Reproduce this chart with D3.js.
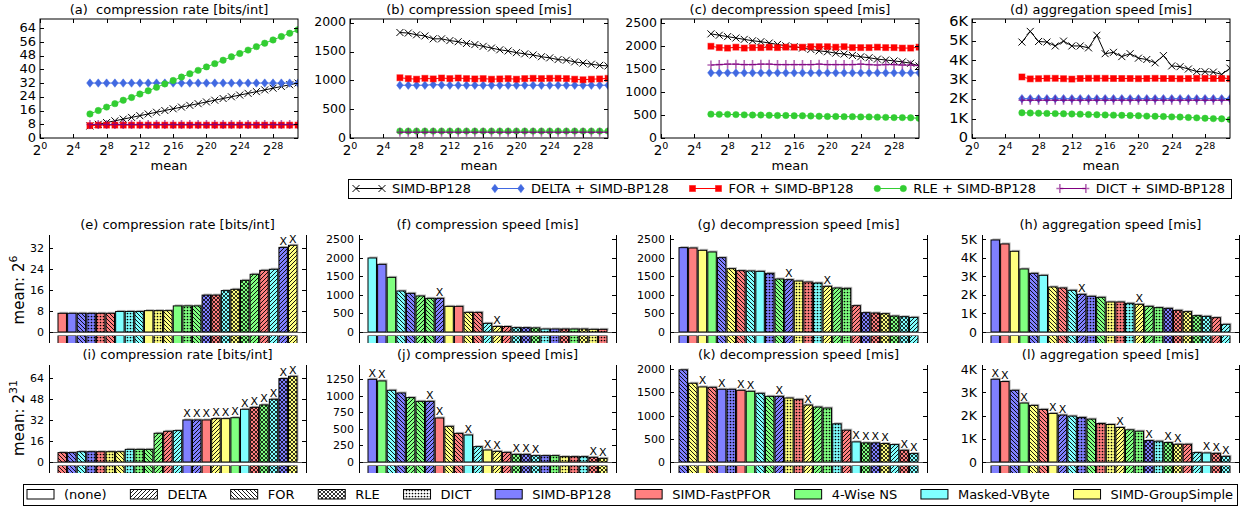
<!DOCTYPE html>
<html>
<head>
<meta charset="utf-8">
<script src="https://cdn.jsdelivr.net/npm/d3@7"></script>
<style>
body { margin: 0; background: #fff; }
svg { font-family: 'DejaVu Sans', sans-serif; }
text { white-space: pre; }
</style>
</head>
<body>
<svg id="chart" width="1247" height="506"></svg>
<script>
// ---- top row: log2(mean) on x, one value per point ----
const exps = [6, 7, 8, 9, 10, 11, 12, 13, 14, 15, 16, 17, 18, 19, 20, 21, 22, 23, 24, 25, 26, 27, 28, 29, 30, 31];
const expTicks = [0, 4, 8, 12, 16, 20, 24, 28];

const bpRate = [7, 8, 9, 10, 11, 12, 13, 14, 15, 16, 17, 18, 19, 20, 21, 22, 23, 24, 25, 26, 27, 28, 29, 30, 31, 32];
const deltaRate = [32, 32, 32, 32, 32, 32, 32, 32, 32, 32, 32, 32, 32, 32, 32, 32, 32, 32, 32, 32, 32, 32, 32, 32, 32, 32];
const forRate = [7.2, 7.5, 7.5, 7.5, 7.5, 7.5, 7.5, 7.5, 7.5, 7.5, 7.5, 7.5, 7.5, 7.5, 7.5, 7.5, 7.5, 7.5, 7.5, 7.5, 7.5, 7.5, 7.5, 7.5, 7.5, 7.5];
const rleRate = [14, 16, 18, 20, 22, 23.6, 25.6, 27.5, 29.5, 31.5, 33.5, 35.5, 37.4, 39.4, 41.4, 43.3, 45.3, 47.3, 49.2, 51.2, 53.2, 55.2, 57.1, 59.1, 61, 63];
const dictRate = [7.9, 7.9, 7.9, 7.9, 7.9, 7.9, 7.9, 7.9, 7.9, 7.9, 7.9, 7.9, 7.9, 7.9, 7.9, 7.9, 7.9, 7.9, 7.9, 7.9, 7.9, 7.9, 7.9, 7.9, 7.9, 7.9];

const bpComp = [1830, 1820, 1790, 1770, 1720, 1720, 1690, 1670, 1640, 1620, 1590, 1560, 1530, 1510, 1480, 1460, 1440, 1410, 1390, 1360, 1350, 1320, 1300, 1280, 1260, 1250];
const deltaComp = [915, 915, 915, 915, 925, 920, 915, 915, 915, 915, 915, 915, 915, 915, 915, 915, 915, 915, 915, 915, 915, 915, 915, 915, 915, 915];
const forComp = [1045, 1030, 1020, 1035, 1025, 1040, 1030, 1040, 1030, 1025, 1030, 1020, 1025, 1030, 1020, 1030, 1035, 1030, 1035, 1035, 1030, 1020, 1010, 1020, 1025, 1035];
const rleComp = [120, 120, 120, 120, 120, 120, 120, 120, 120, 120, 120, 120, 120, 120, 120, 120, 120, 120, 120, 120, 120, 120, 120, 120, 120, 120];
const dictComp = [100, 100, 100, 100, 100, 100, 100, 100, 100, 100, 100, 100, 100, 100, 100, 100, 100, 100, 100, 100, 100, 100, 100, 100, 100, 100];

const bpDecomp = [2270, 2240, 2210, 2180, 2150, 2120, 2100, 2070, 2040, 2010, 1990, 1960, 1930, 1900, 1880, 1850, 1830, 1800, 1770, 1750, 1720, 1700, 1680, 1660, 1630, 1570];
const deltaDecomp = [1420, 1420, 1420, 1420, 1420, 1420, 1420, 1420, 1420, 1420, 1420, 1420, 1420, 1420, 1420, 1420, 1420, 1420, 1420, 1420, 1420, 1420, 1420, 1420, 1420, 1420];
const forDecomp = [2000, 1970, 1960, 1980, 1960, 1970, 1970, 1980, 1970, 1980, 1980, 1980, 1990, 1990, 1990, 1980, 1990, 1970, 1970, 1970, 1980, 1970, 1970, 1960, 1960, 1980];
const rleDecomp = [520, 515, 515, 510, 505, 500, 500, 495, 490, 490, 485, 485, 480, 475, 470, 470, 465, 465, 460, 460, 455, 450, 445, 445, 440, 430];
const dictDecomp = [1590, 1600, 1610, 1610, 1600, 1600, 1610, 1610, 1600, 1600, 1600, 1600, 1600, 1610, 1600, 1600, 1600, 1600, 1610, 1600, 1590, 1600, 1600, 1590, 1590, 1580];

const bpAgg = [4950, 5500, 4980, 4950, 4750, 5000, 4750, 4750, 4650, 5300, 4350, 4420, 4200, 4350, 4120, 4050, 3880, 4250, 3720, 3680, 3560, 3430, 3420, 3400, 3280, 3600];
const deltaAgg = [2030, 2030, 2030, 2030, 2030, 2030, 2030, 2030, 2030, 2030, 2030, 2030, 2030, 2030, 2030, 2030, 2030, 2030, 2030, 2030, 2030, 2030, 2030, 2030, 2030, 2030];
const forAgg = [3150, 3050, 3060, 3080, 3080, 3060, 3040, 3070, 3080, 3080, 3080, 3070, 3070, 3070, 3060, 3070, 3080, 3070, 3070, 3060, 3070, 3080, 3080, 3070, 3070, 3060];
const rleAgg = [1300, 1290, 1280, 1270, 1260, 1250, 1240, 1230, 1210, 1200, 1190, 1180, 1170, 1160, 1150, 1130, 1120, 1110, 1090, 1080, 1060, 1040, 1020, 1000, 990, 950];
const dictAgg = [1950, 1950, 1950, 1950, 1950, 1950, 1950, 1950, 1950, 1950, 1950, 1950, 1950, 1950, 1950, 1950, 1950, 1950, 1950, 1950, 1950, 1950, 1950, 1950, 1950, 1950];

const seriesNames = ['SIMD-BP128', 'DELTA + SIMD-BP128', 'FOR + SIMD-BP128', 'RLE + SIMD-BP128', 'DICT + SIMD-BP128'];

// ---- bottom rows: [physical+logical code, value, marked with X] ----
// physical: B=SIMD-BP128 F=SIMD-FastPFOR N=4-Wise NS V=Masked-VByte G=SIMD-GroupSimple
// logical: n=(none) d=DELTA f=FOR r=RLE c=DICT
const barsE = [['Fn', 7.1], ['Bn', 7.1], ['Bf', 7.1], ['Bc', 7.1], ['Fc', 7.1], ['Ff', 7.1], ['Vn', 7.8], ['Vc', 7.8], ['Vf', 7.8], ['Gn', 8.1], ['Gc', 8.1], ['Gf', 8.1], ['Nn', 9.9], ['Nc', 9.9], ['Nf', 9.9], ['Br', 14.0], ['Fr', 14.0], ['Vr', 15.7], ['Gr', 16.2], ['Nr', 19.6], ['Nd', 21.9], ['Fd', 23.4], ['Vd', 23.8], ['Bd', 32.1, 1], ['Gd', 32.9, 1]];
const barsF = [['Vn', 1996], ['Bn', 1825], ['Nn', 1474], ['Vf', 1106], ['Bf', 1043], ['Nd', 971], ['Nf', 908], ['Bd', 908, 1], ['Gn', 692], ['Fn', 692], ['Gf', 530], ['Ff', 530], ['Vd', 234], ['Gd', 150, 1], ['Fd', 148], ['Vr', 117], ['Br', 117], ['Nr', 110], ['Vc', 81], ['Bc', 81], ['Fr', 81], ['Nc', 81], ['Gr', 81], ['Gc', 72], ['Fc', 72]];
const barsG = [['Bn', 2275], ['Fn', 2266], ['Gn', 2203], ['Nn', 2158], ['Bf', 2005], ['Gf', 1708], ['Ff', 1654], ['Vf', 1645], ['Vn', 1636], ['Bc', 1582], ['Nf', 1429], ['Bd', 1411, 1], ['Gc', 1375], ['Fc', 1348], ['Vc', 1321], ['Gd', 1232, 1], ['Nd', 1187], ['Nc', 1178], ['Fd', 710], ['Br', 521], ['Fr', 512], ['Gr', 494], ['Nr', 431], ['Vr', 413], ['Vd', 395]];
const barsH = [['Bn', 4964], ['Fn', 4749], ['Gn', 4353], ['Nn', 3400], ['Bf', 3166], ['Vn', 3058], ['Gf', 2429], ['Ff', 2375], ['Vf', 2249], ['Bd', 2033, 1], ['Bc', 1925], ['Nf', 1871], ['Gc', 1619], ['Fc', 1619], ['Vc', 1547], ['Gd', 1493, 1], ['Nd', 1385], ['Nc', 1313], ['Br', 1277], ['Fr', 1169], ['Gr', 1097], ['Nr', 881], ['Vr', 845], ['Fd', 773], ['Vd', 414]];
const barsI = [['Ff', 7.1], ['Bf', 7.1], ['Vf', 7.8], ['Bc', 7.8], ['Fc', 7.8], ['Gc', 7.8], ['Gf', 7.8], ['Vc', 9.6], ['Nc', 9.6], ['Nf', 9.6], ['Nd', 21.8], ['Fd', 23.3], ['Vd', 23.8], ['Bn', 31.9, 1], ['Bd', 31.9, 1], ['Fn', 31.9, 1], ['Gd', 32.9, 1], ['Gn', 32.9, 1], ['Nn', 33.6, 1], ['Vn', 40, 1], ['Fr', 41.5, 1], ['Nr', 43.3, 1], ['Vr', 47.6, 1], ['Br', 63.3, 1], ['Gr', 65, 1]];
const barsJ = [['Bn', 1250, 1], ['Nn', 1225, 1], ['Vf', 1084], ['Bf', 1043], ['Nd', 973], ['Nf', 917], ['Bd', 917, 1], ['Fn', 665, 1], ['Gf', 539], ['Ff', 433], ['Vn', 408, 1], ['Vd', 232], ['Gn', 181, 1], ['Gd', 161, 1], ['Fd', 146], ['Nr', 116, 1], ['Br', 116, 1], ['Vr', 96, 1], ['Bc', 96], ['Nc', 96], ['Gc', 81], ['Fc', 81], ['Vc', 81], ['Fr', 71, 1], ['Gr', 55, 1]];
const barsK = [['Bf', 1986], ['Gf', 1697], ['Gn', 1617, 1], ['Ff', 1610], ['Bn', 1567, 1], ['Bc', 1567], ['Fn', 1545, 1], ['Nn', 1523, 1], ['Vf', 1480], ['Nf', 1415], ['Bd', 1415, 1], ['Gc', 1379], ['Fc', 1350], ['Gd', 1227, 1], ['Nd', 1184], ['Nc', 1162], ['Vc', 823], ['Fd', 686], ['Vn', 433, 1], ['Nr', 412, 1], ['Br', 412, 1], ['Gr', 397, 1], ['Vd', 375], ['Fr', 253, 1], ['Vr', 181, 1]];
const barsL = [['Bn', 3567, 1], ['Fn', 3466, 1], ['Bf', 3090], ['Nn', 2541, 1], ['Gf', 2440], ['Ff', 2267], ['Gn', 2094, 1], ['Bd', 2022, 1], ['Vf', 1978], ['Bc', 1921], ['Nf', 1848], ['Fc', 1661], ['Gc', 1617], ['Gd', 1488, 1], ['Nd', 1386], ['Nc', 1328], ['Br', 924, 1], ['Vc', 895], ['Nr', 837, 1], ['Gr', 765, 1], ['Fd', 765], ['Vd', 404], ['Vn', 390, 1], ['Fr', 375, 1], ['Vr', 245, 1]];

const logicalNames = ['(none)', 'DELTA', 'FOR', 'RLE', 'DICT'];
const physicalNames = ['SIMD-BP128', 'SIMD-FastPFOR', '4-Wise NS', 'Masked-VByte', 'SIMD-GroupSimple'];

// ---- styling ----
const physColor = { B: '#8080ff', F: '#ff8080', N: '#80ff80', V: '#80ffff', G: '#ffff80' };
const physCodes = ['B', 'F', 'N', 'V', 'G'];
const logCodes = ['n', 'd', 'f', 'r', 'c'];
const lineStyle = [
    { color: '#000000', shape: 'x' },
    { color: '#4169e1', shape: 'diamond' },
    { color: '#ff0000', shape: 'square' },
    { color: '#32cd32', shape: 'circle' },
    { color: '#800080', shape: 'plus' },
];

const svg = d3.select('#chart');
const defs = svg.append('defs');

function makePattern(id, size, draw) {
    const p = defs.append('pattern')
        .attr('id', id)
        .attr('patternUnits', 'userSpaceOnUse')
        .attr('width', size)
        .attr('height', size);
    draw(p, size);
}
const s = 4;
makePattern('hat-d', s, (p) => p.append('path')
    .attr('d', `M0,${s}L${s},0M-1,1L1,-1M${s - 1},${s + 1}L${s + 1},${s - 1}`)
    .attr('stroke', '#000').attr('stroke-width', 0.9));
makePattern('hat-f', s, (p) => p.append('path')
    .attr('d', `M0,0L${s},${s}M-1,${s - 1}L1,${s + 1}M${s - 1},-1L${s + 1},1`)
    .attr('stroke', '#000').attr('stroke-width', 0.9));
makePattern('hat-r', s, (p) => p.append('path')
    .attr('d', `M0,${s}L${s},0M-1,1L1,-1M${s - 1},${s + 1}L${s + 1},${s - 1}M0,0L${s},${s}M-1,${s - 1}L1,${s + 1}M${s - 1},-1L${s + 1},1`)
    .attr('stroke', '#000').attr('stroke-width', 0.8));
makePattern('hat-c', 3, (p) => p.append('circle')
    .attr('cx', 1.5).attr('cy', 1.5).attr('r', 0.85).attr('fill', '#000'));

const hatchFor = { n: null, d: 'hat-d', f: 'hat-f', r: 'hat-r', c: 'hat-c' };

function drawMarker(g, shape, color, x, y) {
    if (shape === 'x') {
        g.append('path').attr('d', `M${x - 3.5},${y - 3.5}L${x + 3.5},${y + 3.5}M${x - 3.5},${y + 3.5}L${x + 3.5},${y - 3.5}`)
            .attr('stroke', color).attr('stroke-width', 1).attr('fill', 'none');
    } else if (shape === 'diamond') {
        g.append('path').attr('d', `M${x},${y - 4.2}L${x + 3.3},${y}L${x},${y + 4.2}L${x - 3.3},${y}Z`)
            .attr('fill', color).attr('stroke', color).attr('stroke-opacity', 0.5).attr('stroke-width', 1);
    } else if (shape === 'square') {
        g.append('rect').attr('x', x - 3).attr('y', y - 3).attr('width', 6).attr('height', 6)
            .attr('fill', color).attr('stroke', color).attr('stroke-opacity', 0.5).attr('stroke-width', 1);
    } else if (shape === 'circle') {
        g.append('circle').attr('cx', x).attr('cy', y).attr('r', 3.2)
            .attr('fill', color).attr('stroke', color).attr('stroke-opacity', 0.5).attr('stroke-width', 1);
    } else {
        g.append('path').attr('d', `M${x - 3.5},${y}H${x + 3.5}M${x},${y - 4.5}V${y + 4.5}`)
            .attr('stroke', color).attr('stroke-opacity', 0.6).attr('stroke-width', 1.6).attr('fill', 'none');
    }
}

// ---- top row panels ----
const topLefts = [40, 350, 661, 972];
const topW = 258;
const topY0 = 19;
const topY1 = 138;
const kFmt = (d) => (d === 0 ? '0' : `${d / 1000}K`);

const topPanels = [
    { title: '(a)  compression rate [bits/int]', ymax: 69.3, ticks: [0, 8, 16, 24, 32, 40, 48, 56, 64], fmt: String, fs: 13,
        data: [bpRate, deltaRate, forRate, rleRate, dictRate] },
    { title: '(b) compression speed [mis]', ymax: 2064, ticks: [0, 500, 1000, 1500, 2000], fmt: String, fs: 12.5,
        data: [bpComp, deltaComp, forComp, rleComp, dictComp] },
    { title: '(c) decompression speed [mis]', ymax: 2594, ticks: [0, 500, 1000, 1500, 2000, 2500], fmt: String, fs: 12.5,
        data: [bpDecomp, deltaDecomp, forDecomp, rleDecomp, dictDecomp] },
    { title: '(d) aggregation speed [mis]', ymax: 6140, ticks: [0, 1000, 2000, 3000, 4000, 5000, 6000], fmt: kFmt, fs: 14.5,
        data: [bpAgg, deltaAgg, forAgg, rleAgg, dictAgg] },
];

topPanels.forEach((p, i) => {
    const left = topLefts[i];
    const x = d3.scaleLinear().domain([0, 31]).range([left, left + topW]);
    const y = d3.scaleLinear().domain([0, p.ymax]).range([topY1, topY0]);
    const g = svg.append('g');
    const clipId = `clip-top-${i}`;
    defs.append('clipPath').attr('id', clipId).append('rect')
        .attr('x', left).attr('y', topY0).attr('width', topW).attr('height', topY1 - topY0);

    const plot = g.append('g').attr('clip-path', `url(#${clipId})`);
    const line = d3.line().x((d, j) => x(exps[j])).y((d) => y(d));
    p.data.forEach((vals, k) => {
        const st = lineStyle[k];
        plot.append('path').datum(vals).attr('d', line)
            .attr('fill', 'none').attr('stroke', st.color).attr('stroke-width', 1);
        vals.forEach((v, j) => drawMarker(plot, st.shape, st.color, x(exps[j]), y(v)));
    });

    // frame and inward ticks on all sides
    g.append('rect').attr('x', left).attr('y', topY0).attr('width', topW).attr('height', topY1 - topY0)
        .attr('fill', 'none').attr('stroke', '#000').attr('stroke-width', 1);
    p.ticks.forEach((t) => {
        const yy = Math.round(y(t)) + 0.5;
        g.append('path').attr('d', `M${left},${yy}h4M${left + topW},${yy}h-4`).attr('stroke', '#000');
        g.append('text').attr('x', left - 4).attr('y', y(t) - 1).attr('dy', '0.36em')
            .attr('text-anchor', 'end').attr('font-size', p.fs).text(p.fmt(t));
    });
    expTicks.forEach((t) => {
        const xx = Math.round(x(t)) + 0.5;
        g.append('path').attr('d', `M${xx},${topY1}v-4M${xx},${topY0}v4`).attr('stroke', '#000');
        const lab = g.append('text').attr('x', x(t)).attr('y', 155).attr('text-anchor', 'middle').attr('font-size', 13.5);
        lab.append('tspan').text('2');
        lab.append('tspan').attr('dy', -6).attr('font-size', 9.5).text(t);
    });
    g.append('text').attr('x', left + topW / 2).attr('y', 170).attr('text-anchor', 'middle')
        .attr('font-size', 13).text('mean');
    g.append('text').attr('x', left + topW / 2).attr('y', 14).attr('text-anchor', 'middle')
        .attr('font-size', 13).text(p.title);
});

// top legend
(function () {
    const box = { x0: 348, x1: 1231, y0: 179, y1: 198 };
    const lg = svg.append('g');
    lg.append('rect').attr('x', box.x0 + 0.5).attr('y', box.y0 + 0.5)
        .attr('width', box.x1 - box.x0).attr('height', box.y1 - box.y0)
        .attr('fill', '#fff').attr('stroke', '#000');
    const texts = seriesNames.map((n) => lg.append('text').attr('font-size', 13).attr('y', 193).text(n));
    const widths = texts.map((t) => t.node().getComputedTextLength());
    const handle = 36;
    const start = 356;
    const end = 1225;
    const gap = (end - start - d3.sum(widths) - handle * widths.length) / (widths.length - 1);
    let cx = start;
    seriesNames.forEach((n, k) => {
        const st = lineStyle[k];
        const yy = 188.5;
        lg.append('path').attr('d', `M${cx},${yy}H${cx + 26}`).attr('stroke', st.color).attr('stroke-width', 1);
        drawMarker(lg, st.shape, st.color, cx, yy);
        drawMarker(lg, st.shape, st.color, cx + 26, yy);
        texts[k].attr('x', cx + handle);
        cx += handle + widths[k] + gap;
    });
})();

// ---- bottom bar panels ----
const botLefts = [49, 359, 670, 982];
const botW = 257;
const rows = [
    { top: 235, zero: 332, bottom: 343, label: '6', labelY: 290 },
    { top: 365, zero: 462, bottom: 473, label: '31', labelY: 418 },
];

const botPanels = [
    { title: '(e) compression rate [bits/int]', row: 0, col: 0, bars: barsE, ymax: 36.8, ticks: [0, 8, 16, 24, 32], fmt: String, fs: 11 },
    { title: '(f) compression speed [mis]', row: 0, col: 1, bars: barsF, ymax: 2616, ticks: [0, 500, 1000, 1500, 2000, 2500], fmt: String, fs: 11 },
    { title: '(g) decompression speed [mis]', row: 0, col: 2, bars: barsG, ymax: 2616, ticks: [0, 500, 1000, 1500, 2000, 2500], fmt: String, fs: 11 },
    { title: '(h) aggregation speed [mis]', row: 0, col: 3, bars: barsH, ymax: 5232, ticks: [0, 1000, 2000, 3000, 4000, 5000], fmt: kFmt, fs: 12.5 },
    { title: '(i) compression rate [bits/int]', row: 1, col: 0, bars: barsI, ymax: 73.6, ticks: [0, 16, 32, 48, 64], fmt: String, fs: 11 },
    { title: '(j) compression speed [mis]', row: 1, col: 1, bars: barsJ, ymax: 1466, ticks: [0, 250, 500, 750, 1000, 1250], fmt: String, fs: 11 },
    { title: '(k) decompression speed [mis]', row: 1, col: 2, bars: barsK, ymax: 2090, ticks: [0, 500, 1000, 1500, 2000], fmt: String, fs: 11 },
    { title: '(l) aggregation speed [mis]', row: 1, col: 3, bars: barsL, ymax: 4180, ticks: [0, 1000, 2000, 3000, 4000], fmt: kFmt, fs: 12.5 },
];

function drawBar(g, code, x, y0, y1, w, shadow) {
    const fill = physColor[code[0]];
    const hatch = hatchFor[code[1]];
    if (shadow) {
        g.append('rect').attr('x', x + 1.5).attr('y', y0 - 1.5).attr('width', w).attr('height', y1 - y0)
            .attr('fill', '#999').attr('opacity', 0.7);
    }
    g.append('rect').attr('x', x).attr('y', y0).attr('width', w).attr('height', y1 - y0).attr('fill', fill);
    if (hatch) {
        g.append('rect').attr('x', x).attr('y', y0).attr('width', w).attr('height', y1 - y0)
            .attr('fill', `url(#${hatch})`);
    }
    g.append('rect').attr('x', x).attr('y', y0).attr('width', w).attr('height', y1 - y0)
        .attr('fill', 'none').attr('stroke', '#000').attr('stroke-width', 1);
}

botPanels.forEach((p, i) => {
    const r = rows[p.row];
    const left = botLefts[p.col];
    const right = left + botW;
    const x = d3.scaleBand().domain(d3.range(p.bars.length)).range([left + 9, right - 9]).paddingInner(0.12);
    const y = d3.scaleLinear().domain([0, p.ymax]).range([r.zero, r.top]);
    const g = svg.append('g');
    const clipId = `clip-bot-${i}`;
    defs.append('clipPath').attr('id', clipId).append('rect')
        .attr('x', left).attr('y', r.top - 20).attr('width', botW).attr('height', r.bottom - r.top + 20);
    const plot = g.append('g').attr('clip-path', `url(#${clipId})`);

    p.bars.forEach((b, j) => {
        const bx = x(j);
        const bw = x.bandwidth();
        drawBar(plot, b[0], bx, y(b[1]), r.zero, bw, true);
        drawBar(plot, b[0], bx, r.zero + 3.5, r.bottom + 3, bw, false);
        if (b[2]) {
            plot.append('text').attr('x', bx + bw / 2).attr('y', y(b[1]) - 2.5).attr('text-anchor', 'middle')
                .attr('font-size', 11).text('X');
        }
    });
    plot.append('rect').attr('x', left).attr('y', r.zero).attr('width', botW).attr('height', 3.5).attr('fill', '#fff');
    plot.append('path').attr('d', `M${left},${r.zero + 0.5}H${right}`).attr('stroke', '#555').attr('stroke-width', 1);

    g.append('path').attr('d', `M${left + 0.5},${r.top}V${r.bottom}M${right + 0.5},${r.top}V${r.bottom}`)
        .attr('stroke', '#000').attr('stroke-width', 1);
    p.ticks.forEach((t) => {
        const yy = Math.round(y(t)) + 0.5;
        g.append('path').attr('d', `M${left},${yy}h4M${right},${yy}h-4`).attr('stroke', '#000');
        g.append('text').attr('x', left - 5).attr('y', y(t)).attr('dy', '0.36em')
            .attr('text-anchor', 'end').attr('font-size', p.fs).text(p.fmt(t));
    });
    g.append('text').attr('x', left + botW / 2).attr('y', r.top - 6).attr('text-anchor', 'middle')
        .attr('font-size', 13).text(p.title);
});

rows.forEach((r) => {
    const t = svg.append('text').attr('transform', `translate(24,${r.labelY}) rotate(-90)`)
        .attr('text-anchor', 'middle').attr('font-size', 15);
    t.append('tspan').text('mean: 2');
    t.append('tspan').attr('dy', -7).attr('font-size', 11).text(r.label);
});

// bottom legend
(function () {
    const box = { x0: 23, x1: 1237, y0: 484, y1: 505 };
    const lg = svg.append('g');
    lg.append('rect').attr('x', box.x0 + 0.5).attr('y', box.y0 + 0.5)
        .attr('width', box.x1 - box.x0).attr('height', box.y1 - box.y0)
        .attr('fill', '#fff').attr('stroke', '#000');
    const entries = logicalNames.map((n, k) => ({ name: n, code: 'W' + logCodes[k] }))
        .concat(physicalNames.map((n, k) => ({ name: n, code: physCodes[k] + 'n' })));
    const texts = entries.map((e) => lg.append('text').attr('font-size', 13).attr('y', 499).text(e.name));
    const widths = texts.map((t) => t.node().getComputedTextLength());
    const handle = 37;
    const start = 27;
    const end = 1233;
    const gap = (end - start - d3.sum(widths) - handle * widths.length) / (widths.length - 1);
    let cx = start;
    entries.forEach((e, k) => {
        const fill = e.code[0] === 'W' ? '#fff' : physColor[e.code[0]];
        const hatch = hatchFor[e.code[1]];
        lg.append('rect').attr('x', cx).attr('y', 489.5).attr('width', 27).attr('height', 9.5).attr('fill', fill);
        if (hatch) {
            lg.append('rect').attr('x', cx).attr('y', 489.5).attr('width', 27).attr('height', 9.5).attr('fill', `url(#${hatch})`);
        }
        lg.append('rect').attr('x', cx).attr('y', 489.5).attr('width', 27).attr('height', 9.5)
            .attr('fill', 'none').attr('stroke', '#000');
        texts[k].attr('x', cx + handle);
        cx += handle + widths[k] + gap;
    });
})();
</script>
</body>
</html>
